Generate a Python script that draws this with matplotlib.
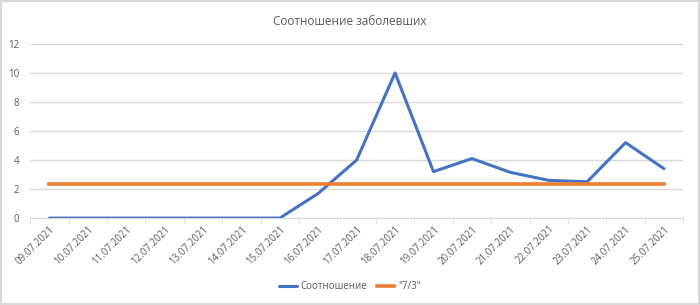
import matplotlib.pyplot as plt
import numpy as np

dates = ['09.07.2021', '10.07.2021', '11.07.2021', '12.07.2021', '13.07.2021',
         '14.07.2021', '15.07.2021', '16.07.2021', '17.07.2021', '18.07.2021',
         '19.07.2021', '20.07.2021', '21.07.2021', '22.07.2021', '23.07.2021',
         '24.07.2021', '25.07.2021']
ratio = [0, 0, 0, 0, 0, 0, 0, 1.7, 4.0, 10.0, 3.2, 4.1, 3.15, 2.6, 2.5, 5.2, 3.4]
ref = [7 / 3] * len(dates)

plt.rcParams['font.family'] = ['Open Sans', 'DejaVu Sans']
txt = '#595959'

fig = plt.figure(figsize=(7, 3.05), dpi=100)
fig.patch.set_edgecolor('#d9d9d9')
fig.patch.set_linewidth(1.5)
ax = fig.add_axes([0.043, 0.285, 0.933, 0.571])

x = np.arange(len(dates))
ax.plot(x, ratio, color='#4472c4', lw=2.2, label='Соотношение', solid_capstyle='round')
ax.plot(x, ref, color='#ed7d31', lw=2.6, label='"7/3"')

ax.set_xlim(-0.5, len(dates) - 0.5)
ax.set_ylim(0, 12)
ax.set_yticks(range(0, 13, 2))
ax.set_xticks(x)
ax.set_xticklabels(dates, rotation=45, ha='right', rotation_mode='anchor', fontsize=7, color=txt)
ax.set_xticks(np.arange(-0.5, len(dates), 1), minor=True)
ax.tick_params(axis='x', which='major', length=0, pad=4)
ax.tick_params(axis='x', which='minor', length=4, color='#d9d9d9')
ax.tick_params(axis='y', length=0, labelsize=7, labelcolor=txt, pad=8)
ax.yaxis.grid(True, color='#d9d9d9', lw=1)
ax.set_axisbelow(True)
for s in ['top', 'right', 'left']:
    ax.spines[s].set_visible(False)
ax.spines['bottom'].set_color('#d9d9d9')

fig.text(0.5, 0.928, 'Соотношение заболевших', fontsize=8.5, color=txt,
         ha='center', va='center')
fig.legend(loc='center', bbox_to_anchor=(0.5, 0.06), ncol=2, frameon=False,
           fontsize=7, labelcolor=txt, handlelength=1.8, handletextpad=0.4,
           columnspacing=1.0)

fig.savefig('out.png', dpi=100, edgecolor=fig.get_edgecolor())
